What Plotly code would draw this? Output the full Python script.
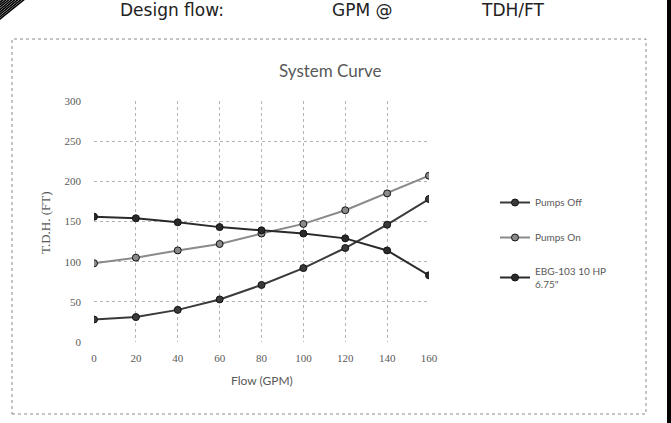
import plotly.graph_objects as go

flow = [0, 20, 40, 60, 80, 100, 120, 140, 160]
pumps_off = [28, 31, 40, 53, 71, 92, 117, 146, 178]
pumps_on = [98, 105, 114, 122, 135, 147, 164, 185, 207]
ebg_103 = [156, 154, 149, 143, 139, 135, 129, 114, 83]
series_names = ["Pumps Off", "Pumps On", "EBG-103 10 HP<br>6.75\""]
series_colors = ["#3a3a3a", "#8a8a8a", "#2a2a2a"]

W, H = 671, 423
L, R, T, B = 94, 242, 101, 81
PW, PH = W - L - R, H - T - B

def px(x):
    return (x - L) / PW

def py(y):
    return (H - B - y) / PH

fig = go.Figure()
for name, vals, col in zip(series_names, [pumps_off, pumps_on, ebg_103], series_colors):
    fig.add_trace(go.Scatter(
        x=flow, y=vals, name=name, mode="lines+markers",
        line=dict(color=col, width=2),
        marker=dict(symbol="circle", size=7, color=col,
                    line=dict(color="#111111", width=1)),
        legendgroup=name,
    ))

grid = dict(showgrid=True, gridcolor="#b4b4b4", griddash="dot", gridwidth=1,
            zeroline=False, showline=False, ticks="",
            tickfont=dict(family="Liberation Serif", size=11, color="#595959"))

fig.update_xaxes(range=[0, 160], tickvals=flow, ticklabelstandoff=8, **grid)
fig.update_yaxes(range=[0, 300], dtick=50, ticklabelstandoff=12, **grid)

shapes = []
# white page area; the paper colour left visible forms the black strip on the right edge
shapes.append(dict(type="rect", xref="paper", yref="paper",
                   x0=px(-5), x1=px(667), y0=py(430), y1=py(-10),
                   fillcolor="#ffffff", line=dict(width=0), layer="below"))
# outer dotted border of the chart
shapes.append(dict(type="rect", xref="paper", yref="paper",
                   x0=px(12), x1=px(646), y0=py(414), y1=py(39),
                   line=dict(color="#8a8a8a", width=1, dash="dot")))
# hatch in top-left corner
for k in range(0, 27, 3):
    shapes.append(dict(type="line", xref="paper", yref="paper",
                       x0=px(-2), y0=py(k * 0.8 + 1.5), x1=px(k + 2), y1=py(-2),
                       line=dict(color="#000000", width=1.6), layer="above"))

annotations = [
    dict(text="System Curve", x=px(330), y=py(70), xref="paper", yref="paper",
         showarrow=False, xanchor="center", yanchor="middle",
         font=dict(family="Lato", size=17, color="#595959")),
    dict(text="Flow (GPM)", x=px(261.5), y=py(380), xref="paper", yref="paper",
         showarrow=False, xanchor="center", yanchor="middle",
         font=dict(family="Lato", size=12, color="#595959")),
    dict(text="T.D.H. (FT)", x=px(45), y=py(222), xref="paper", yref="paper",
         showarrow=False, xanchor="center", yanchor="middle", textangle=-90,
         font=dict(family="Liberation Serif", size=13, color="#595959")),
    dict(text="Design flow:", x=px(118), y=py(10), xref="paper", yref="paper",
         showarrow=False, xanchor="left", yanchor="middle",
         font=dict(family="DejaVu Sans", size=17, color="#222222")),
    dict(text="GPM @", x=px(330), y=py(10), xref="paper", yref="paper",
         showarrow=False, xanchor="left", yanchor="middle",
         font=dict(family="DejaVu Sans", size=17, color="#222222")),
    dict(text="TDH/FT", x=px(479), y=py(10), xref="paper", yref="paper",
         showarrow=False, xanchor="left", yanchor="middle",
         font=dict(family="DejaVu Sans", size=17, color="#222222")),
]

fig.update_layout(
    width=W, height=H,
    margin=dict(l=L, r=R, t=T, b=B),
    paper_bgcolor="#000000", plot_bgcolor="white",
    showlegend=True,
    legend=dict(x=px(495), y=py(188), xanchor="left", yanchor="top",
                traceorder="grouped", tracegroupgap=16,
                font=dict(family="Lato", size=10, color="#595959"),
                bgcolor="rgba(0,0,0,0)", itemwidth=30),
    shapes=shapes, annotations=annotations,
)

fig.write_html("out.html", config={"displayModeBar": False},
               post_script="document.body.style.margin='0';document.body.style.padding='0';document.body.style.overflow='hidden';")
